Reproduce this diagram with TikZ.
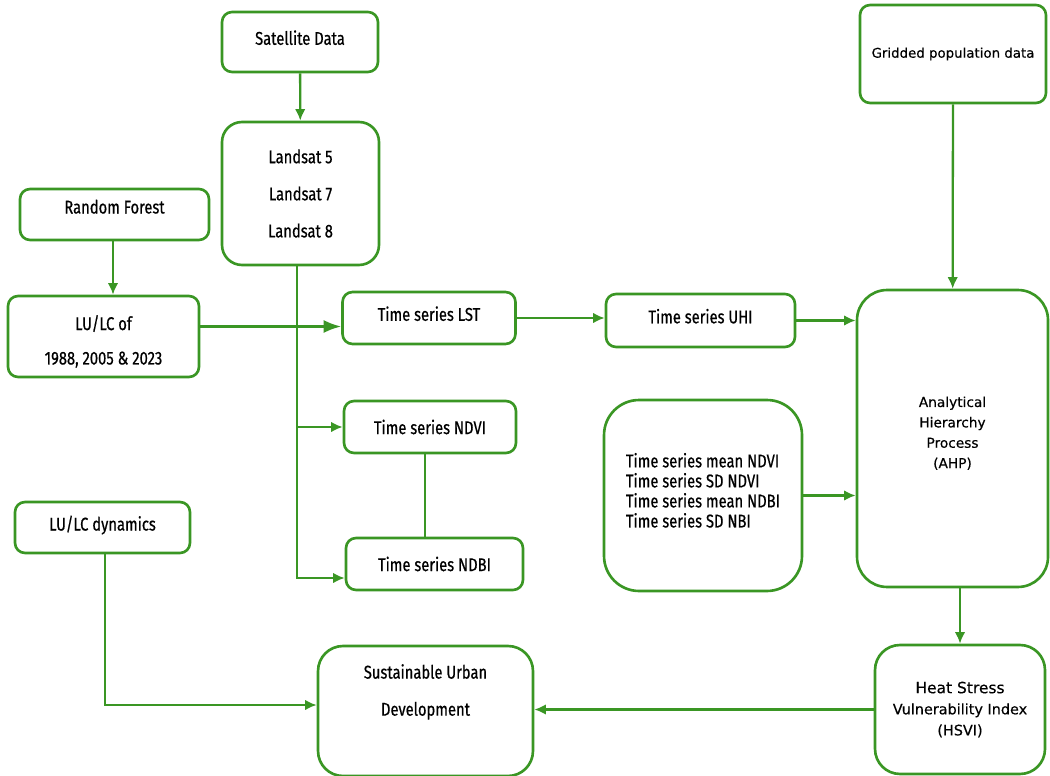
\documentclass[tikz,border=0pt]{standalone}
\usepackage{fontspec}
\setmainfont[FakeStretch=0.8, FakeBold=0.6]{Fira Sans}
\newfontfamily\wideface[FakeBold=0.4]{DejaVu Sans}
\usepackage{tikz}
\usetikzlibrary{positioning,arrows.meta}
\definecolor{boxgreen}{RGB}{58,150,36}

\begin{document}
\begin{tikzpicture}[x = 0.02cm, y = -0.02cm,
  box/.style = {draw = boxgreen, line width = 1.5pt, shape = rectangle, rounded corners = 0.2cm, align = center, font = \fontsize{10.5}{12.6}\selectfont},
  bigbox/.style = {box, rounded corners = 0.5cm},
  link/.style = {draw = boxgreen, line width = 1.3pt},
  arr/.style = {link, -{Latex[length = 2.3mm, width = 2.1mm]}}]
\useasboundingbox (0,0) rectangle (1050,776);
\node[box, minimum width = 3.12cm, minimum height = 1.2cm] (1) at (300,42) {Satellite Data\rule[-5pt]{0pt}{5pt}};
\node[box, rounded corners = 0.4cm, minimum width = 3.14cm, minimum height = 2.86cm] (2) at (300.5,193.5) {Landsat 5\\[8.5pt] Landsat 7\\[8.5pt] Landsat 8};
\node[box, minimum width = 3.78cm, minimum height = 1.02cm] (3) at (114.5,214.5) {Random Forest\rule[-9pt]{0pt}{9pt}};
\node[box, minimum width = 3.82cm, minimum height = 1.62cm] (4) at (103.5,336.5) {\rule{0pt}{14pt}LU/LC of\\[7pt] 1988, 2005 \& 2023};
\node[box, minimum width = 3.46cm, minimum height = 1.04cm] (5) at (429,318) {Time series LST\rule[-5pt]{0pt}{5pt}};
\node[box, minimum width = 3.78cm, minimum height = 1.06cm] (6) at (700.5,320.5) {Time series UHI\rule[-5pt]{0pt}{5pt}};
\node[box, minimum width = 3.72cm, minimum height = 1.96cm, font = \wideface\fontsize{7.6}{9}\selectfont] (7) at (953,54) {Gridded population data};
\node[bigbox, rounded corners = 0.6cm, minimum width = 3.82cm, minimum height = 5.94cm, font = \wideface\fontsize{7.8}{11.6}\selectfont] (8) at (952.5,438.5) {Analytical\\ Hierarchy\\ Process\\ (AHP)\rule[-7pt]{0pt}{7pt}};
\node[box, minimum width = 3.44cm, minimum height = 1.04cm] (9) at (430,427) {Time series NDVI};
\node[box, minimum width = 3.54cm, minimum height = 1.04cm] (10) at (434.5,564) {Time series NDBI};
\node[bigbox, rounded corners = 0.7cm, minimum width = 3.96cm, minimum height = 3.82cm, align = left, font = \fontsize{10.5}{11.4}\selectfont] (11) at (703,495.5) {Time series mean NDVI\\ Time series SD NDVI\\ Time series mean NDBI\\ Time series SD NBI\rule[-6pt]{0pt}{6pt}};
\node[box, minimum width = 3.5cm, minimum height = 1.02cm] (12) at (102.5,527.5) {LU/LC dynamics\rule[-5pt]{0pt}{5pt}};
\node[bigbox, minimum width = 4.3cm, minimum height = 2.6cm] (13) at (425.5,711) {};
\node[align = center, font = \fontsize{10.5}{12.6}\selectfont, anchor = north] (14) at (425.5,658) {Sustainable Urban\\[8.5pt] Development};
\node[bigbox, minimum width = 3.4cm, minimum height = 2.58cm, font = \wideface\fontsize{8.2}{12}\selectfont] (15) at (960,709.5) {\fontsize{8.8}{12}\selectfont Heat Stress\\ Vulnerability Index\\ (HSVI)};

\draw[arr] (1) -- (2);
\draw[arr] ([xshift = -0.03cm]3.south) -- ([xshift = -0.03cm]3.south |- 4.north);
\draw[link, -{Latex[length = 3.5mm, width = 2.6mm]}] ([yshift = 0.2cm]4.east) -- ([yshift = 0.2cm]4.east -| 5.west);
\draw[link] ([xshift = -0.07cm]2.south) -- ([xshift = -0.07cm]2.south |- 9.west);
\draw[arr] ([xshift = -0.07cm]2.south |- 9.west) -- (9.west);
\draw[arr] ([xshift = -0.07cm]2.south) |- ([yshift = -0.28cm]10.west);
\draw[arr] (5.east) -- (5.east -| 6.west);
\draw[arr] (6.east) -- (6.east -| 8.west);
\draw[arr] (7) -- (8);
\draw[link] ([xshift = -0.1cm]9.south) -- ([xshift = -0.1cm]9.south |- 10.north);
\draw[arr] (11.east) -- (11.east -| 8.west);
\draw[arr] (8.south -| 15.north) -- (15.north);
\draw[arr] (15.west) -- (15.west -| 13.east);
\draw[arr] ([xshift = 0.05cm]12.south) |- ([yshift = 0.12cm]13.west);
\end{tikzpicture}
\end{document}
